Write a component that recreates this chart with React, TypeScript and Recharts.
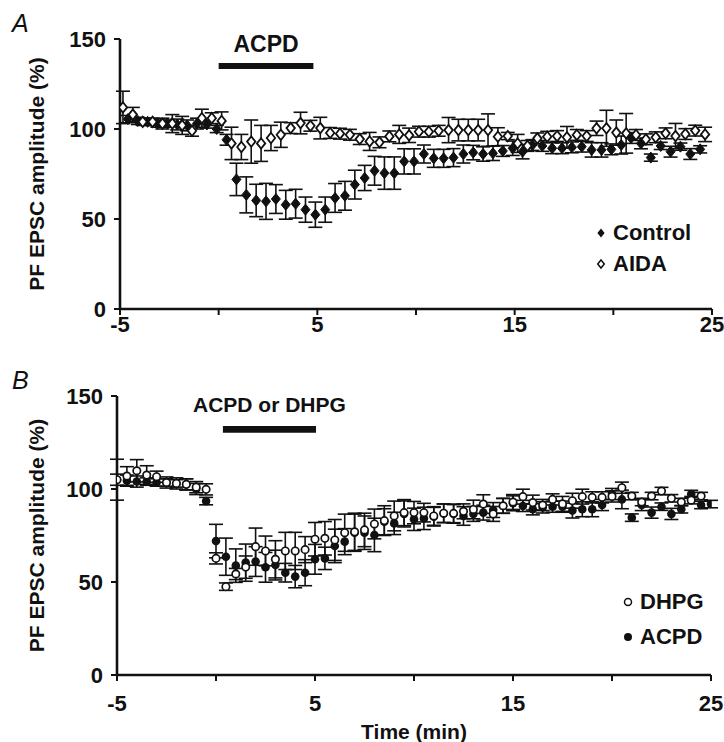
import React from 'react';
import { ScatterChart, Scatter, XAxis, YAxis, ErrorBar, ReferenceArea, Label, Legend } from 'recharts';

// panel A: AIDA (open diamonds) and control (filled diamonds)
const aidaTime = [
  -4.85, -4.35, -3.85, -3.35, -2.85, -2.35, -1.85, -1.35, -0.85, -0.35,
  0.15, 0.65, 1.15, 1.65, 2.15, 2.65, 3.15, 3.65, 4.15, 4.65,
  5.15, 5.65, 6.15, 6.65, 7.15, 7.65, 8.15, 8.65, 9.15, 9.65,
  10.15, 10.65, 11.15, 11.65, 12.15, 12.65, 13.15, 13.65, 14.15, 14.65,
  15.15, 15.65, 16.15, 16.65, 17.15, 17.65, 18.15, 18.65, 19.15, 19.65,
  20.15, 20.65, 21.15, 21.65, 22.15, 22.65, 23.15, 23.65, 24.15, 24.65,
];
const aidaMean = [
  112, 108, 104, 104, 103, 103, 102, 99, 106, 106,
  104.5, 92, 90, 93, 92, 95, 96.8, 100.5, 103.3, 101.8,
  100.5, 97.8, 97.4, 96.8, 94.4, 93.1, 92.6, 95.9, 97, 96.5,
  98.5, 98.5, 99, 99.4, 99.4, 99.4, 99.4, 99.4, 95.7, 96.1,
  92, 90.6, 94.8, 95.7, 96.1, 95.4, 96.7, 96.1, 100.4, 100.4,
  98, 97.6, 96.7, 94.3, 95.4, 97.6, 96.1, 97.2, 99.1, 97,
];
const aidaSem = [
  9, 4, 2, 2, 3, 5, 5, 3, 5, 3,
  5, 9, 7, 12, 10, 7, 7, 3, 6, 3,
  6, 3, 3, 3, 3, 5, 3, 3, 5, 4,
  3, 3, 3, 7, 6, 6, 6, 9, 5, 2,
  5, 3, 3, 3, 3, 6, 3, 3, 4, 10,
  7, 11, 3, 3, 3, 3, 7, 3, 3, 4,
];

const controlTime = [
  -4.6, -4.1, -3.6, -3.1, -2.6, -2.1, -1.6, -1.1, -0.6, -0.1,
  0.4, 0.9, 1.4, 1.9, 2.4, 2.9, 3.4, 3.9, 4.4, 4.9,
  5.4, 5.9, 6.4, 6.9, 7.4, 7.9, 8.4, 8.9, 9.4, 9.9,
  10.4, 10.9, 11.4, 11.9, 12.4, 12.9, 13.4, 13.9, 14.4, 14.9,
  15.4, 15.9, 16.4, 16.9, 17.4, 17.9, 18.4, 18.9, 19.4, 19.9,
  20.4, 20.9, 21.4, 21.9, 22.4, 22.9, 23.4, 23.9, 24.4,
];
const controlMean = [
  105.5, 104.5, 104, 103, 103, 102.5, 102, 103, 102.5, 100,
  94, 72, 63.4, 60.3, 59.8, 61.1, 57.9, 58.5, 55.2, 52.4,
  55.2, 61.7, 62.9, 69.1, 72.8, 76.8, 75.5, 75.5, 82, 82,
  86.1, 83.7, 83.7, 84.1, 86.1, 86.9, 86.1, 86.5, 87.8, 89.3,
  87.4, 91.1, 90.6, 89.3, 89.3, 89.8, 90.2, 88.4, 88.4, 88.7,
  91.1, 95, 92, 84.1, 90.6, 87.4, 90.2, 86.1, 88.7,
];
const controlSem = [
  2, 2, 2, 2, 2, 3, 3, 3, 2, 2,
  3, 9, 10, 9, 10, 8, 8, 8, 7, 7,
  7, 8, 8, 8, 7, 8, 9, 9, 7, 7,
  5, 5, 5, 5, 5, 4, 4, 4, 3, 4,
  4, 3, 3, 3, 3, 3, 3, 4, 4, 3,
  5, 3, 3, 2, 2, 3, 2, 3, 2,
];

// panel B: ACPD (filled circles) and DHPG (open circles)
const acpdTime = [
  -5, -4.5, -4, -3.5, -3, -2.5, -2, -1.5, -1, -0.5,
  0, 0.5, 1, 1.5, 2, 2.5, 3, 3.5, 4, 4.5,
  5, 5.5, 6, 6.5, 7, 7.5, 8, 8.5, 9, 9.5,
  10, 10.5, 11, 11.5, 12, 12.5, 13, 13.5, 14, 14.5,
  15, 15.5, 16, 16.5, 17, 17.5, 18, 18.5, 19, 19.5,
  20, 20.5, 21, 21.5, 22, 22.5, 23, 23.5, 24, 24.5, 25,
];
const acpdMean = [
  105, 104.5, 104, 104, 103.5, 103.5, 103, 102.5, 100, 93.5,
  72, 63.6, 58.8, 60.4, 61, 57.9, 59.1, 55, 52.9, 55,
  62.2, 62.7, 69.4, 71.7, 76.5, 76.5, 75.3, 82.4, 81.5, 86.6,
  83.7, 84.2, 85.1, 86.9, 86.6, 85.5, 86.6, 87.3, 88.7, 90.9,
  92.3, 90.9, 89.1, 90.1, 90.5, 90.5, 88.4, 89.1, 89.1, 91.4,
  97.3, 94.4, 84.6, 91.4, 87.3, 90.5, 86.6, 89.1, 97.3, 91.4, 91.9,
];
const acpdSem = [
  11, 3, 3, 2, 2, 2, 2, 3, 3, 2,
  9, 10, 9, 10, 8, 8, 8, 5, 6, 7,
  8, 6, 9, 7, 10, 9, 9, 7, 6, 7,
  6, 6, 5, 5, 5, 5, 4, 4, 4, 4,
  4, 3, 3, 3, 3, 3, 4, 4, 4, 3,
  3, 5, 2, 3, 3, 2, 3, 2, 2, 2, 2,
];

const dhpgTime = [
  -5, -4.5, -4, -3.5, -3, -2.5, -2, -1.5, -1, -0.5,
  0, 0.5, 1, 1.5, 2, 2.5, 3, 3.5, 4, 4.5,
  5, 5.5, 6, 6.5, 7, 7.5, 8, 8.5, 9, 9.5,
  10, 10.5, 11, 11.5, 12, 12.5, 13, 13.5, 14, 14.5,
  15, 15.5, 16, 16.5, 17, 17.5, 18, 18.5, 19, 19.5,
  20, 20.5, 21, 21.5, 22, 22.5, 23, 23.5, 24, 24.5,
];
const dhpgMean = [
  105, 107, 109.8, 107.5, 106.6, 103.5, 103, 102.5, 101, 99.8,
  62.7, 47.5, 54.3, 58, 69, 66.7, 62.2, 66.7, 66.7, 67.4,
  73, 73.5, 72.6, 76.5, 77, 78, 81.2, 83, 85.5, 87.3,
  87.3, 87.3, 85.5, 87, 86.9, 88, 89, 91.9, 86.6, 91,
  93, 95.9, 92.7, 91.4, 94.4, 92, 93.7, 95.9, 95.5, 95.5,
  96, 100.7, 96.2, 93, 96.2, 98.9, 95, 93, 94, 96.2,
];
const dhpgSem = [
  3, 5, 6, 5, 3, 3, 3, 3, 3, 3,
  3, 2, 3, 6, 10, 8, 10, 10, 10, 7,
  9, 9, 11, 10, 10, 9, 8, 8, 8, 7,
  6, 5, 5, 5, 5, 4, 5, 5, 4, 4,
  4, 4, 4, 3, 3, 4, 4, 4, 3, 3,
  3, 3, 2, 2, 2, 2, 2, 2, 2, 2,
];

const xTicks = [-5, 0, 5, 10, 15, 20, 25];
const xTickLabels = ['-5', '', '5', '', '15', '', '25'];
const yTicks = [0, 50, 100, 150];

const INK = '#111';
const FONT = '"Liberation Sans", Arial, Helvetica, sans-serif';

const toRows = (t: number[], m: number[], s: number[]) =>
  t.map((x, i) => ({ t: x, v: m[i], e: s[i] }));

const aidaData = toRows(aidaTime, aidaMean, aidaSem);
const controlData = toRows(controlTime, controlMean, controlSem);
const acpdData = toRows(acpdTime, acpdMean, acpdSem);
const dhpgData = toRows(dhpgTime, dhpgMean, dhpgSem);

const diamondPath = (cx: number, cy: number, w: number, h: number) =>
  `M${cx},${cy - h} L${cx + w},${cy} L${cx},${cy + h} L${cx - w},${cy} Z`;

const FilledDiamond = (p: any) =>
  p.cx == null ? null : <path d={diamondPath(p.cx, p.cy, 4.5, 5.5)} fill={INK} stroke={INK} strokeWidth={1} />;
const OpenDiamond = (p: any) =>
  p.cx == null ? null : <path d={diamondPath(p.cx, p.cy, 4.2, 5.2)} fill="#fff" stroke={INK} strokeWidth={1.8} />;
const FilledCircle = (p: any) =>
  p.cx == null ? null : <circle cx={p.cx} cy={p.cy} r={4.3} fill={INK} />;
const OpenCircle = (p: any) =>
  p.cx == null ? null : <circle cx={p.cx} cy={p.cy} r={3.7} fill="#fff" stroke={INK} strokeWidth={1.7} />;

const tickStyle = { fontFamily: FONT, fontWeight: 700, fontSize: 22, fill: INK };
const axisLineStyle = { stroke: INK, strokeWidth: 2.6 };
const tickLineStyle = { stroke: INK, strokeWidth: 2 };

const legendRow = (h: number): React.CSSProperties => ({
  display: 'flex',
  alignItems: 'center',
  height: h,
  fontFamily: FONT,
  fontWeight: 700,
  fontSize: 22,
  color: INK,
});

const LegendA = () => (
  <div>
    <div style={legendRow(31)}>
      <svg width={14} height={14} style={{ marginRight: 5 }}>
        <path d={diamondPath(7, 7, 3.6, 4.4)} fill={INK} />
      </svg>
      <span>Control</span>
    </div>
    <div style={legendRow(31)}>
      <svg width={14} height={14} style={{ marginRight: 5 }}>
        <path d={diamondPath(7, 7, 3.3, 4)} fill="#fff" stroke={INK} strokeWidth={1.5} />
      </svg>
      <span>AIDA</span>
    </div>
  </div>
);

const LegendB = () => (
  <div>
    <div style={legendRow(35)}>
      <svg width={14} height={14} style={{ marginRight: 5 }}>
        <circle cx={7} cy={7} r={3.5} fill="#fff" stroke={INK} strokeWidth={1.5} />
      </svg>
      <span>DHPG</span>
    </div>
    <div style={legendRow(35)}>
      <svg width={14} height={14} style={{ marginRight: 5 }}>
        <circle cx={7} cy={7} r={4} fill={INK} />
      </svg>
      <span>ACPD</span>
    </div>
  </div>
);

const yLabel = (
  <Label
    value="PF EPSC amplitude (%)"
    angle={-90}
    position="insideLeft"
    offset={27}
    style={{ textAnchor: 'middle', fontFamily: FONT, fontWeight: 700, fontSize: 21, fill: INK }}
  />
);

const panelLetter = (top: number): React.CSSProperties => ({
  position: 'absolute',
  left: 12,
  top,
  fontFamily: FONT,
  fontStyle: 'italic',
  fontSize: 25,
  lineHeight: '25px',
  color: INK,
});

export default function App() {
  return (
    <div style={{ position: 'absolute', left: 0, top: 0, width: 724, height: 742, background: '#fff' }}>
      <div style={panelLetter(11)}>A</div>
      <div style={panelLetter(368)}>B</div>

      <div style={{ position: 'absolute', left: 0, top: 0 }}>
        <ScatterChart width={724} height={340} margin={{ top: 39, right: 12, bottom: 1, left: 10 }}>
          <XAxis
            type="number"
            dataKey="t"
            domain={[-5, 25]}
            ticks={xTicks}
            tickFormatter={(v: number) => xTickLabels[xTicks.indexOf(v)]}
            allowDataOverflow
            height={30}
            tickSize={6}
            tickMargin={1}
            tick={tickStyle}
            axisLine={axisLineStyle}
            tickLine={tickLineStyle}
          />
          <YAxis
            type="number"
            dataKey="v"
            domain={[0, 150]}
            ticks={yTicks}
            allowDataOverflow
            width={110}
            tickSize={6}
            tickMargin={8}
            tick={tickStyle}
            axisLine={axisLineStyle}
            tickLine={tickLineStyle}
            label={yLabel}
          />
          <ReferenceArea x1={0} x2={4.8} y1={133.3} y2={136.7} fill={INK} fillOpacity={1} stroke="none">
            <Label value="ACPD" position="top" offset={11} style={{ fontFamily: FONT, fontWeight: 700, fontSize: 23, fill: INK }} />
          </ReferenceArea>
          <Scatter data={controlData} shape={FilledDiamond} isAnimationActive={false}>
            <ErrorBar dataKey="e" direction="y" width={7} stroke={INK} strokeWidth={1.6} />
          </Scatter>
          <Scatter data={aidaData} shape={OpenDiamond} isAnimationActive={false}>
            <ErrorBar dataKey="e" direction="y" width={7} stroke={INK} strokeWidth={1.6} />
          </Scatter>
          <Legend
            layout="vertical"
            align="center"
            verticalAlign="middle"
            content={LegendA}
            wrapperStyle={{ left: 594, top: 217, width: 130 }}
          />
        </ScatterChart>
      </div>

      <div style={{ position: 'absolute', left: 0, top: 360 }}>
        <ScatterChart width={724} height={382} margin={{ top: 36, right: 13, bottom: 0, left: 10 }}>
          <XAxis
            type="number"
            dataKey="t"
            domain={[-5, 25]}
            ticks={xTicks}
            tickFormatter={(v: number) => xTickLabels[xTicks.indexOf(v)]}
            allowDataOverflow
            height={67}
            tickSize={6}
            tickMargin={14}
            tick={tickStyle}
            axisLine={axisLineStyle}
            tickLine={tickLineStyle}
          >
            <Label
              value="Time (min)"
              position="insideBottom"
              offset={3}
              style={{ fontFamily: FONT, fontWeight: 700, fontSize: 21, fill: INK }}
            />
          </XAxis>
          <YAxis
            type="number"
            dataKey="v"
            domain={[0, 150]}
            ticks={yTicks}
            allowDataOverflow
            width={107}
            tickSize={6}
            tickMargin={8}
            tick={tickStyle}
            axisLine={axisLineStyle}
            tickLine={tickLineStyle}
            label={yLabel}
          />
          <ReferenceArea x1={0.35} x2={5.05} y1={130.3} y2={133.9} fill={INK} fillOpacity={1} stroke="none">
            <Label value="ACPD or DHPG" position="top" offset={14} style={{ fontFamily: FONT, fontWeight: 700, fontSize: 21, fill: INK }} />
          </ReferenceArea>
          <Scatter data={acpdData} shape={FilledCircle} isAnimationActive={false}>
            <ErrorBar dataKey="e" direction="y" width={7} stroke={INK} strokeWidth={1.6} />
          </Scatter>
          <Scatter data={dhpgData} shape={OpenCircle} isAnimationActive={false}>
            <ErrorBar dataKey="e" direction="y" width={7} stroke={INK} strokeWidth={1.6} />
          </Scatter>
          <Legend
            layout="vertical"
            align="center"
            verticalAlign="middle"
            content={LegendB}
            wrapperStyle={{ left: 621, top: 224, width: 110 }}
          />
        </ScatterChart>
      </div>
    </div>
  );
}
